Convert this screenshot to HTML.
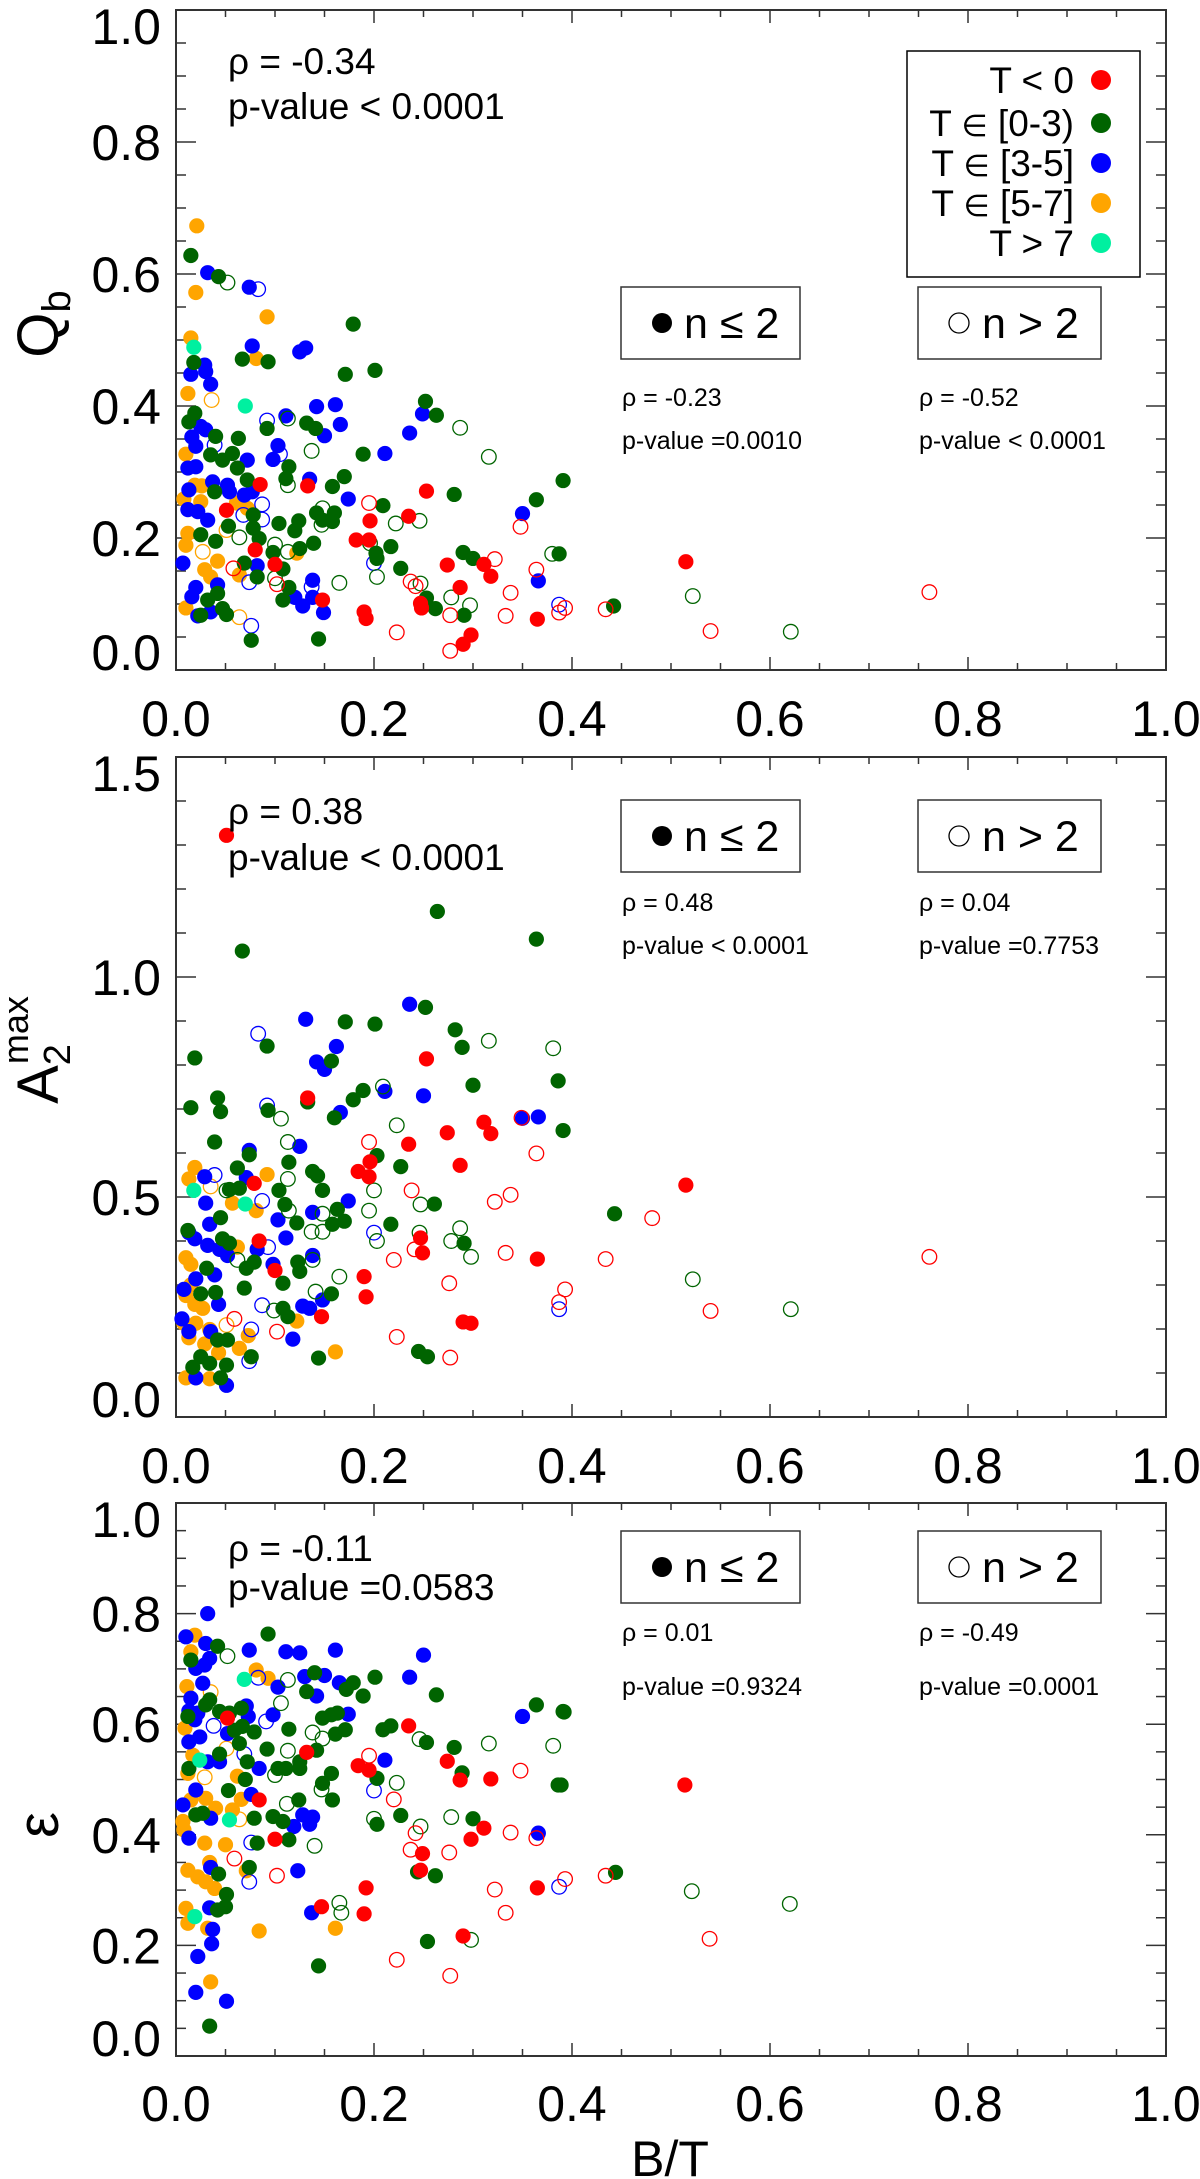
<!DOCTYPE html>
<html><head><meta charset="utf-8"><style>
html,body{margin:0;padding:0;background:#fff;}
svg{display:block;font-family:"Liberation Sans","DejaVu Sans",sans-serif;}
</style></head><body>
<svg id="fig" width="1200" height="2179" viewBox="0 0 1200 2179" xmlns="http://www.w3.org/2000/svg">
<g id="axes"></g>
<g id="marks"></g>
<g id="texts">
  <text x="228" y="74" font-size="37">ρ = -0.34</text>
  <text x="228" y="119" font-size="37">p-value &lt; 0.0001</text>
  <g>
    <rect x="907" y="51" width="233" height="226" fill="none" stroke="#000" stroke-width="1.5"/>
    <text x="1074" y="93" font-size="37" text-anchor="end">T &lt; 0</text>
    <circle cx="1101" cy="80" r="10" fill="#ff0000"/>
    <text x="1074" y="136" font-size="37" text-anchor="end">T <tspan font-size="30">∈</tspan> [0-3)</text>
    <circle cx="1101" cy="123" r="10" fill="#006400"/>
    <text x="1074" y="176" font-size="37" text-anchor="end">T <tspan font-size="30">∈</tspan> [3-5]</text>
    <circle cx="1101" cy="163" r="10" fill="#0000ff"/>
    <text x="1074" y="216" font-size="37" text-anchor="end">T <tspan font-size="30">∈</tspan> [5-7]</text>
    <circle cx="1101" cy="203" r="10" fill="#ffa500"/>
    <text x="1074" y="256" font-size="37" text-anchor="end">T &gt; 7</text>
    <circle cx="1101" cy="243" r="10" fill="#00f0a0"/>
  </g>
</g>
</svg>
<script>
const p1RedF=[[.133,.279],[.085,.281],[.253,.271],[.051,.242],[.196,.226],[.235,.233],[.182,.197],[.195,.197],[.080,.182],[.100,.160],[.274,.159],[.311,.160],[.318,.142],[.287,.125],[.148,.106],[.190,.088],[.192,.078],[.247,.101],[.248,.094],[.290,.039],[.298,.053],[.365,.077],[.515,.164]];
const p1RedO=[[.195,.253],[.348,.217],[.322,.168],[.058,.154],[.102,.130],[.364,.152],[.237,.134],[.242,.127],[.338,.117],[.277,.083],[.223,.057],[.277,.029],[.333,.082],[.387,.087],[.393,.094],[.434,.092],[.540,.059],[.761,.118]];
const p1GreenF=[[.015,.628],[.043,.596],[.179,.524],[.067,.471],[.093,.467],[.018,.466],[.171,.448],[.201,.454],[.252,.407],[.263,.386],[.019,.389],[.013,.376],[.092,.366],[.132,.374],[.141,.366],[.040,.354],[.063,.351],[.189,.327],[.035,.326],[.047,.318],[.057,.328],[.114,.308],[.111,.290],[.170,.293],[.158,.278],[.391,.287],[.062,.306],[.072,.288],[.039,.270],[.281,.266],[.209,.249],[.364,.258],[.078,.235],[.142,.238],[.148,.227],[.160,.238],[.158,.225],[.124,.226],[.104,.222],[.053,.218],[.078,.215],[.120,.211],[.025,.205],[.084,.199],[.139,.192],[.217,.187],[.040,.195],[.125,.184],[.098,.178],[.202,.177],[.203,.169],[.290,.178],[.300,.169],[.387,.176],[.069,.162],[.108,.153],[.082,.141],[.227,.154],[.114,.125],[.042,.116],[.032,.106],[.047,.093],[.051,.084],[.025,.083],[.108,.106],[.253,.109],[.262,.093],[.291,.083],[.076,.045],[.144,.047],[.442,.097]];
const p1GreenO=[[.052,.587],[.287,.367],[.113,.381],[.137,.332],[.316,.323],[.113,.280],[.148,.245],[.147,.220],[.222,.222],[.246,.226],[.064,.201],[.196,.192],[.100,.190],[.113,.179],[.380,.176],[.100,.139],[.203,.141],[.247,.131],[.165,.132],[.278,.110],[.297,.098],[.522,.112],[.621,.058]];
const p1BlueF=[[.032,.602],[.074,.580],[.077,.491],[.125,.482],[.131,.488],[.029,.462],[.015,.448],[.030,.452],[.035,.433],[.142,.399],[.161,.402],[.249,.388],[.166,.372],[.111,.385],[.150,.355],[.025,.369],[.030,.364],[.016,.353],[.020,.339],[.236,.359],[.211,.328],[.072,.318],[.103,.340],[.098,.319],[.012,.306],[.020,.308],[.135,.289],[.037,.285],[.052,.280],[.013,.273],[.054,.270],[.069,.265],[.077,.270],[.174,.259],[.350,.237],[.012,.243],[.022,.240],[.032,.227],[.007,.162],[.082,.158],[.366,.135],[.138,.136],[.020,.125],[.016,.111],[.042,.129],[.035,.088],[.022,.082],[.120,.110],[.128,.097],[.138,.110],[.149,.087]];
const p1BlueO=[[.083,.577],[.092,.378],[.039,.341],[.105,.327],[.087,.251],[.068,.235],[.087,.228],[.200,.162],[.074,.133],[.137,.126],[.076,.067],[.387,.099]];
const p1OrangeF=[[.021,.673],[.020,.572],[.092,.535],[.015,.503],[.081,.472],[.012,.419],[.010,.327],[.019,.280],[.026,.279],[.008,.259],[.025,.255],[.061,.253],[.072,.245],[.012,.207],[.010,.189],[.122,.177],[.042,.165],[.029,.152],[.035,.141],[.064,.144],[.010,.094]];
const p1OrangeO=[[.036,.409],[.051,.212],[.027,.179],[.064,.080]];
const p1TealF=[[.018,.489],[.070,.400]];

const p2RedF=[[.051,1.322],[.253,.814],[.133,.725],[.274,.646],[.311,.670],[.318,.644],[.235,.620],[.196,.580],[.184,.558],[.195,.546],[.287,.572],[.079,.531],[.247,.407],[.249,.373],[.365,.359],[.084,.400],[.100,.333],[.190,.319],[.192,.273],[.147,.228],[.290,.216],[.298,.213],[.515,.527]];
const p2RedO=[[.349,.680],[.195,.625],[.364,.599],[.238,.515],[.322,.489],[.338,.505],[.241,.381],[.220,.357],[.333,.373],[.434,.359],[.387,.261],[.393,.290],[.059,.223],[.102,.194],[.223,.182],[.277,.135],[.276,.304],[.481,.452],[.540,.241],[.761,.364]];
const p2GreenF=[[.067,1.059],[.264,1.149],[.364,1.086],[.252,.931],[.171,.898],[.201,.893],[.092,.843],[.019,.816],[.157,.809],[.282,.880],[.289,.840],[.300,.754],[.386,.764],[.015,.703],[.042,.725],[.045,.694],[.093,.697],[.133,.716],[.189,.742],[.179,.721],[.160,.680],[.391,.651],[.039,.625],[.074,.596],[.203,.594],[.227,.569],[.114,.579],[.138,.558],[.143,.548],[.062,.566],[.054,.517],[.064,.520],[.104,.515],[.148,.515],[.110,.483],[.163,.472],[.261,.484],[.443,.462],[.045,.453],[.122,.441],[.158,.438],[.170,.445],[.217,.438],[.291,.395],[.012,.424],[.047,.405],[.054,.395],[.071,.338],[.079,.352],[.123,.352],[.125,.331],[.031,.338],[.108,.304],[.069,.293],[.025,.280],[.040,.283],[.157,.280],[.108,.247],[.113,.228],[.052,.175],[.042,.175],[.076,.137],[.025,.137],[.034,.122],[.051,.118],[.144,.134],[.245,.149],[.254,.137],[.017,.113],[.045,.089]];
const p2GreenO=[[.106,.678],[.209,.751],[.223,.663],[.316,.855],[.381,.838],[.113,.625],[.113,.541],[.051,.515],[.200,.515],[.114,.469],[.148,.462],[.195,.469],[.247,.483],[.137,.421],[.148,.421],[.203,.400],[.246,.419],[.278,.400],[.287,.429],[.298,.364],[.138,.357],[.062,.357],[.165,.319],[.141,.285],[.099,.242],[.522,.313],[.621,.245]];
const p2BlueF=[[.236,.938],[.131,.904],[.162,.842],[.142,.807],[.150,.790],[.211,.740],[.250,.730],[.166,.692],[.074,.606],[.125,.615],[.350,.679],[.366,.682],[.029,.546],[.071,.544],[.030,.486],[.138,.465],[.174,.491],[.034,.438],[.103,.448],[.111,.407],[.013,.419],[.019,.405],[.032,.390],[.044,.381],[.052,.367],[.082,.381],[.138,.367],[.098,.347],[.039,.323],[.020,.314],[.008,.290],[.043,.256],[.128,.252],[.135,.247],[.148,.266],[.006,.223],[.013,.194],[.035,.194],[.118,.177],[.020,.089],[.051,.072]];
const p2BlueO=[[.083,.871],[.092,.708],[.039,.550],[.087,.491],[.200,.419],[.093,.386],[.087,.254],[.387,.245],[.076,.199],[.074,.127]];
const p2OrangeF=[[.019,.567],[.013,.541],[.092,.551],[.057,.486],[.081,.469],[.062,.386],[.010,.362],[.015,.347],[.015,.300],[.010,.276],[.019,.256],[.027,.247],[.008,.213],[.020,.213],[.034,.199],[.122,.218],[.013,.180],[.029,.166],[.073,.185],[.043,.146],[.064,.156],[.161,.148],[.010,.089],[.034,.087]];
const p2OrangeO=[[.035,.524],[.051,.209]];
const p2TealF=[[.018,.515],[.070,.484]];

const p3RedF=[[.052,.611],[.235,.597],[.132,.549],[.184,.525],[.195,.517],[.274,.533],[.287,.499],[.318,.501],[.084,.463],[.311,.412],[.298,.392],[.100,.392],[.249,.366],[.247,.336],[.192,.304],[.365,.304],[.147,.270],[.190,.257],[.290,.217],[.514,.490]];
const p3RedO=[[.195,.543],[.220,.464],[.348,.516],[.242,.403],[.338,.404],[.364,.394],[.237,.373],[.276,.368],[.059,.357],[.102,.326],[.322,.301],[.393,.320],[.434,.326],[.333,.259],[.223,.174],[.277,.145],[.539,.212]];
const p3GreenF=[[.042,.741],[.093,.763],[.015,.716],[.140,.693],[.132,.659],[.172,.663],[.179,.675],[.189,.651],[.201,.685],[.263,.653],[.034,.644],[.030,.635],[.012,.614],[.044,.623],[.054,.620],[.066,.629],[.067,.596],[.079,.586],[.059,.589],[.064,.565],[.114,.591],[.148,.611],[.157,.617],[.163,.620],[.161,.582],[.171,.590],[.209,.590],[.217,.597],[.253,.567],[.281,.558],[.364,.635],[.391,.623],[.044,.546],[.092,.555],[.142,.553],[.013,.520],[.072,.532],[.103,.520],[.111,.520],[.125,.532],[.125,.520],[.157,.511],[.148,.493],[.158,.463],[.203,.502],[.289,.512],[.386,.490],[.070,.500],[.053,.480],[.124,.463],[.020,.436],[.027,.439],[.079,.430],[.098,.433],[.108,.424],[.227,.435],[.203,.419],[.300,.429],[.082,.385],[.114,.391],[.043,.329],[.074,.341],[.244,.333],[.262,.326],[.444,.332],[.051,.292],[.050,.270],[.042,.264],[.254,.207],[.144,.163],[.034,.054],[.392,.622],[.389,.490]];
const p3GreenO=[[.052,.723],[.113,.680],[.106,.638],[.138,.585],[.148,.574],[.246,.573],[.316,.565],[.381,.561],[.113,.552],[.100,.508],[.147,.482],[.223,.494],[.112,.456],[.200,.429],[.278,.432],[.247,.415],[.140,.380],[.165,.277],[.167,.259],[.298,.210],[.521,.298],[.620,.275]];
const p3BlueF=[[.032,.800],[.010,.758],[.030,.746],[.074,.734],[.111,.731],[.125,.729],[.161,.734],[.250,.725],[.034,.719],[.020,.701],[.029,.707],[.103,.667],[.130,.686],[.150,.688],[.142,.651],[.165,.675],[.236,.685],[.027,.674],[.015,.647],[.013,.624],[.022,.620],[.019,.608],[.071,.633],[.073,.614],[.098,.617],[.052,.583],[.013,.568],[.024,.577],[.174,.618],[.350,.614],[.032,.532],[.044,.532],[.084,.520],[.211,.535],[.020,.481],[.076,.473],[.007,.454],[.035,.430],[.128,.436],[.138,.432],[.135,.419],[.119,.415],[.366,.403],[.013,.394],[.035,.341],[.123,.335],[.034,.268],[.037,.229],[.137,.259],[.036,.203],[.022,.180],[.020,.115],[.051,.099]];
const p3BlueO=[[.083,.684],[.091,.605],[.038,.597],[.069,.546],[.200,.480],[.076,.386],[.074,.315],[.387,.306]];
const p3OrangeF=[[.019,.761],[.015,.731],[.081,.698],[.093,.683],[.011,.668],[.009,.593],[.017,.544],[.012,.511],[.062,.506],[.015,.463],[.030,.466],[.066,.464],[.040,.448],[.057,.445],[.007,.424],[.008,.409],[.029,.385],[.050,.382],[.034,.350],[.012,.336],[.022,.324],[.030,.315],[.039,.303],[.071,.335],[.010,.267],[.012,.240],[.032,.231],[.084,.226],[.161,.231],[.035,.134]];
const p3OrangeO=[[.035,.658],[.051,.556],[.029,.504],[.064,.428]];
const p3TealF=[[.069,.681],[.024,.535],[.054,.427],[.019,.252]];

const xTickLabels=["0.0","0.2","0.4","0.6","0.8","1.0"];
const p1YTickLabels=["0.0","0.2","0.4","0.6","0.8","1.0"];
const p2YTickLabels=["0.0","0.5","1.0","1.5"];
const p3YTickLabels=["0.0","0.2","0.4","0.6","0.8","1.0"];

const NS="http://www.w3.org/2000/svg";
const axesG=document.getElementById('axes'), marksG=document.getElementById('marks'), textG=document.getElementById('texts');
function mk(tag,attrs,parent){const e=document.createElementNS(NS,tag);for(const k in attrs)e.setAttribute(k,attrs[k]);parent.appendChild(e);return e;}

const X0=176,X1=1166;
const xScale=v=>X0+v*(X1-X0);
const COLORS={red:"#ff0000",green:"#006400",blue:"#0000ff",orange:"#ffa500",teal:"#00f0a0"};

const panels=[
 {id:"p1",y0:10,y1:670,ymax:1,yminor:.05,ymajor:.2,ylabels:p1YTickLabels,lstep:.2,xlabY:718,
  series:[["orange",0,p1OrangeF],["orange",1,p1OrangeO],["blue",0,p1BlueF],["blue",1,p1BlueO],["green",0,p1GreenF],["green",1,p1GreenO],["red",0,p1RedF],["red",1,p1RedO],["teal",0,p1TealF]]},
 {id:"p2",y0:757,y1:1417,ymax:1.5,yminor:.1,ymajor:.5,ylabels:p2YTickLabels,lstep:.5,xlabY:1465,
  series:[["orange",0,p2OrangeF],["orange",1,p2OrangeO],["blue",0,p2BlueF],["blue",1,p2BlueO],["green",0,p2GreenF],["green",1,p2GreenO],["red",0,p2RedF],["red",1,p2RedO],["teal",0,p2TealF]]},
 {id:"p3",y0:1503,y1:2056,ymax:1,yminor:.05,ymajor:.2,ylabels:p3YTickLabels,lstep:.2,xlabY:2103,
  series:[["orange",0,p3OrangeF],["orange",1,p3OrangeO],["blue",0,p3BlueF],["blue",1,p3BlueO],["green",0,p3GreenF],["green",1,p3GreenO],["red",0,p3RedF],["red",1,p3RedO],["teal",0,p3TealF]]}
];

panels.forEach(p=>{
  const yS=v=>p.y1-v/p.ymax*(p.y1-p.y0);
  const g=mk('g',{},axesG);
  
  
  const fr=mk('rect',{x:X0,y:p.y0,width:X1-X0,height:p.y1-p.y0,fill:'none',stroke:'#333','stroke-width':2},g);
  
  
  for(let i=0;i<=20;i++){
    const v=i*0.05, x=xScale(v), major=(i%4===0), L=major?13:7;
    mk('line',{x1:x,x2:x,y1:p.y1,y2:p.y1-L,stroke:'#333','stroke-width':1.5},g);
    mk('line',{x1:x,x2:x,y1:p.y0,y2:p.y0+L,stroke:'#333','stroke-width':1.5},g);
  }
  const nmin=Math.round(p.ymax/p.yminor), per=Math.round(p.ymajor/p.yminor);
  for(let i=0;i<=nmin;i++){
    const v=i*p.yminor, y=yS(v), major=(i%per===0), L=major?20:10;
    mk('line',{x1:X0,x2:X0+L,y1:y,y2:y,stroke:'#333','stroke-width':1.5},g);
    mk('line',{x1:X1,x2:X1-L,y1:y,y2:y,stroke:'#333','stroke-width':1.5},g);
  }
  p.ylabels.forEach((lab,i)=>{
    let y=yS(i*p.lstep); y=Math.max(p.y0+16,Math.min(p.y1-18,y));
    const t=mk('text',{x:161,y:y+18,'font-size':50,'text-anchor':'end'},g);
    
    
    t.textContent=lab;
  });
  xTickLabels.forEach((lab,i)=>{
    const t=mk('text',{x:xScale(i*0.2),y:p.xlabY+18,'font-size':50,'text-anchor':'middle'},g);
    
    
    t.textContent=lab;
  });
  const mg=mk('g',{},marksG);
  
  
  p.series.forEach(([col,open,arr])=>{
    arr.forEach(d=>{
      const c=mk('circle',{cx:xScale(d[0]),cy:yS(d[1]),r:open?7.3:7.6,
        fill:open?'none':COLORS[col],stroke:open?COLORS[col]:'none','stroke-width':1.3},mg);
      
      
    });
  });
});

const boxInfo=[
 {id:"p1",by:287,rho1:"ρ = -0.23",p1:"p-value =0.0010",rho2:"ρ = -0.52",p2:"p-value < 0.0001",ry:397,py:440},
 {id:"p2",by:800,rho1:"ρ =  0.48",p1:"p-value < 0.0001",rho2:"ρ =  0.04",p2:"p-value =0.7753",ry:902,py:945},
 {id:"p3",by:1531,rho1:"ρ =  0.01",p1:"p-value =0.9324",rho2:"ρ = -0.49",p2:"p-value =0.0001",ry:1632,py:1686}
];
boxInfo.forEach(b=>{
  const g=mk('g',{},textG);
  
  
  const r1=mk('rect',{x:621,y:b.by,width:179,height:72,fill:'none',stroke:'#333','stroke-width':1.5},g);
  
  
  mk('circle',{cx:662,cy:b.by+36,r:10,fill:'#000'},g);
  const t1=mk('text',{x:684,y:b.by+51,'font-size':43},g);
  
  
  t1.textContent="n ≤ 2";
  const r2=mk('rect',{x:918,y:b.by,width:183,height:72,fill:'none',stroke:'#333','stroke-width':1.5},g);
  
  
  mk('circle',{cx:959,cy:b.by+36,r:10,fill:'none',stroke:'#000','stroke-width':1.3},g);
  const t2=mk('text',{x:982,y:b.by+51,'font-size':43},g);
  
  
  t2.textContent="n > 2";
  [[622,b.ry,b.rho1],[622,b.py,b.p1],[919,b.ry,b.rho2],[919,b.py,b.p2]].forEach(([x,y,s])=>{
    const t=mk('text',{x:x,y:y+9,'font-size':25},g);
    
    
    t.textContent=s;
  });
});

[["p2-rho",228,811,"ρ =  0.38"],["p2-pvalue",228,857,"p-value < 0.0001"],["p3-rho",228,1548,"ρ = -0.11"],["p3-pvalue",228,1587,"p-value =0.0583"]].forEach(([n,x,y,s])=>{
  const t=mk('text',{x:x,y:y+13,'font-size':37},textG);
  
  
  t.textContent=s;
});

function ytitle(name,cy,build){
  const t=mk('text',{transform:`translate(58,${cy}) rotate(-90)`,'font-size':58,'text-anchor':'middle'},textG);
  
  
  build(t);
}
ytitle('y-axis-title-qb',324,t=>{
  const a=mk('tspan',{},t);a.textContent="Q";
  const b=mk('tspan',{'font-size':40,dy:12},t);b.textContent="b";
});
ytitle('y-axis-title-a2max',1050,t=>{
  const a=mk('tspan',{},t);a.textContent="A";
  const b=mk('tspan',{'font-size':38,dy:12},t);b.textContent="2";
  const c=mk('tspan',{'font-size':36,dx:-20,dy:-42},t);c.textContent="max";
});
ytitle('y-axis-title-epsilon',1825,t=>{t.textContent="ε";});
const xt=mk('text',{x:670,y:2176,'font-size':50,'text-anchor':'middle'},textG);


xt.textContent="B/T";
</script>
</body></html>
